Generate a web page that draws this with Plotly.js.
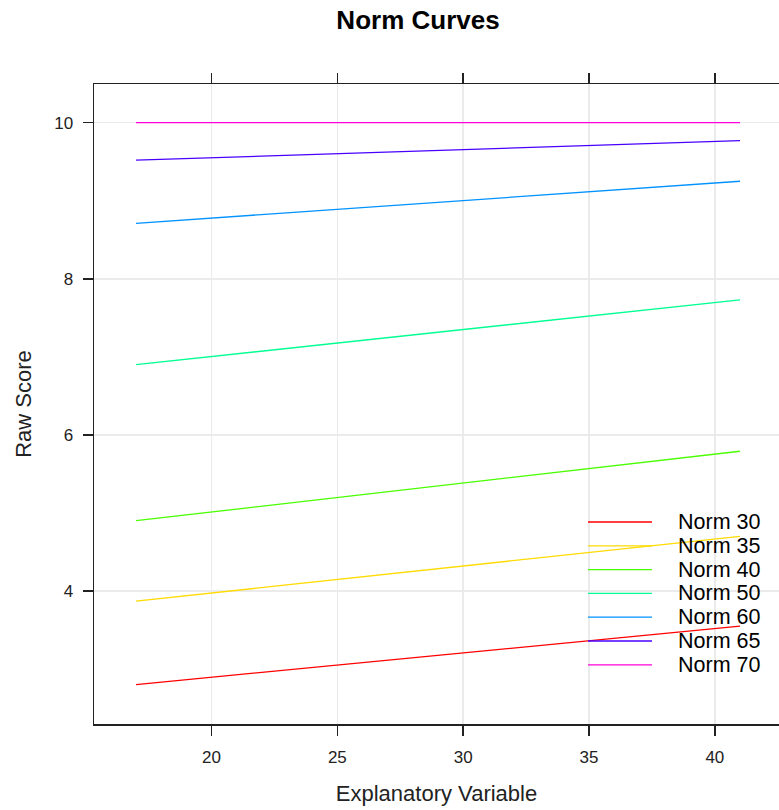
<!DOCTYPE html>
<html>
<head>
<meta charset="utf-8">
<script src="https://cdn.plot.ly/plotly-3.0.1.min.js"></script>
<style>html,body{margin:0;padding:0;background:#fff;}#chart{width:779px;height:810px;}</style>
</head>
<body>
<div id="chart"></div>
<script>
// Data
const xValues = [17, 41];
const seriesNames = ["Norm 30", "Norm 35", "Norm 40", "Norm 50", "Norm 60", "Norm 65", "Norm 70"];
const norm30 = [2.80, 3.55];
const norm35 = [3.87, 4.70];
const norm40 = [4.90, 5.79];
const norm50 = [6.90, 7.73];
const norm60 = [8.71, 9.25];
const norm65 = [9.52, 9.77];
const norm70 = [10.0, 10.0];
const seriesValues = [norm30, norm35, norm40, norm50, norm60, norm65, norm70];
const seriesColors = ["#FF0000", "#FFDB00", "#49FF00", "#00FF92", "#0092FF", "#4900FF", "#FF00DB"];
const xTicks = [20, 25, 30, 35, 40];
const yTicks = [4, 6, 8, 10];

const W = 779, H = 810;
const mL = 94, mR = 0, mT = 84, mB = 86;
const font = "Arial, 'Liberation Sans', sans-serif";

const traces = seriesNames.map((name, i) => ({
  type: "scatter", mode: "lines", name: name,
  x: xValues, y: seriesValues[i],
  line: {color: seriesColors[i], width: 1.3},
  showlegend: false, hoverinfo: "skip"
}));

// custom legend (lattice-style key) in pixel space converted to paper coords
const plotW = W - mL - mR, plotH = H - mT - mB;
const px2x = p => (p - mL) / plotW;
const px2y = p => 1 - (p - mT) / plotH;
const shapes = [], annotations = [];
const legTop = 522, legStep = 23.8;
seriesNames.forEach((name, i) => {
  const yy = px2y(legTop + i * legStep);
  shapes.push({type: "line", xref: "paper", yref: "paper",
    x0: px2x(588), x1: px2x(652), y0: yy, y1: yy,
    line: {color: seriesColors[i], width: 1.3}});
  annotations.push({xref: "paper", yref: "paper", x: px2x(676), y: yy,
    xanchor: "left", yanchor: "middle", text: name, showarrow: false,
    font: {family: font, size: 21.5, color: "#000"}});
});

const layout = {
  width: W, height: H,
  margin: {l: mL, r: mR, t: mT, b: mB, pad: 0},
  paper_bgcolor: "#fff", plot_bgcolor: "#fff",
  title: {text: "<b>Norm Curves</b>", font: {family: font, size: 26, color: "#000"},
    xref: "paper", x: px2x(418), xanchor: "center", y: 1 - 20 / H, yanchor: "middle"},
  xaxis: {
    range: [15.33, 42.55], tickvals: xTicks, ticktext: xTicks.map(String),
    ticks: "outside", ticklen: 10, tickwidth: 1.5, tickcolor: "#222",
    showline: true, linecolor: "#222", linewidth: 1.5, mirror: "ticks",
    showgrid: true, gridcolor: "#ebebeb", gridwidth: 1.5, zeroline: false,
    tickfont: {family: font, size: 17, color: "#222"}, ticklabelstandoff: 7,
    title: {text: "Explanatory Variable", font: {family: font, size: 22, color: "#222"}, standoff: 19}
  },
  yaxis: {
    range: [2.295, 10.496], tickvals: yTicks, ticktext: yTicks.map(String),
    ticks: "outside", ticklen: 10, tickwidth: 1.5, tickcolor: "#222",
    showline: true, linecolor: "#222", linewidth: 1.5, mirror: false,
    showgrid: true, gridcolor: "#ebebeb", gridwidth: 1.5, zeroline: false,
    tickfont: {family: font, size: 17, color: "#222"}, ticklabelstandoff: 6,
    title: {text: "Raw Score", font: {family: font, size: 22, color: "#222"}, standoff: 16}
  },
  shapes: shapes, annotations: annotations, showlegend: false
};

Plotly.newPlot("chart", traces, layout, {staticPlot: true, displayModeBar: false});
</script>
</body>
</html>
